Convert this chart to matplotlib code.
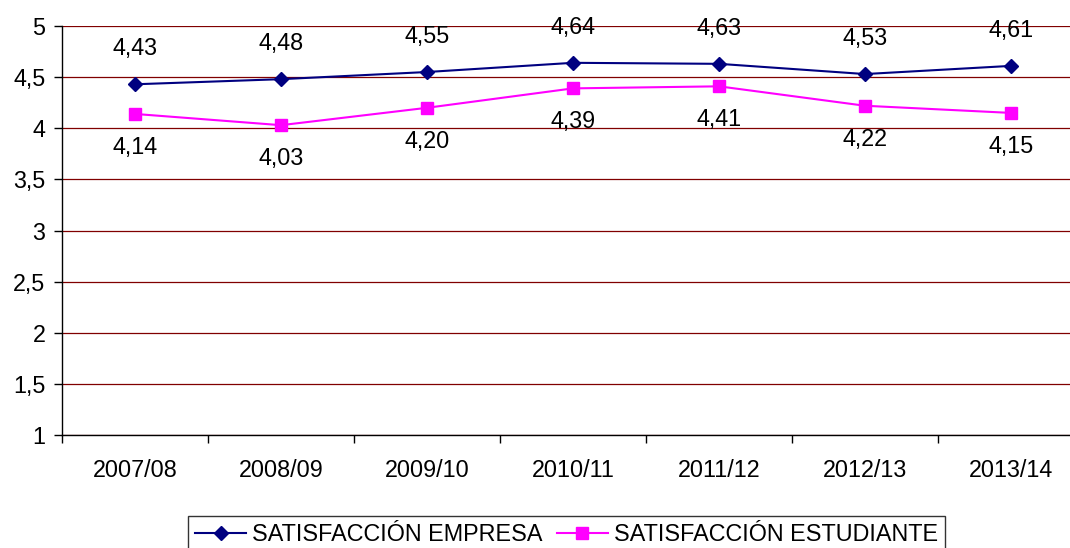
import matplotlib.pyplot as plt
import numpy as np
from matplotlib.ticker import FuncFormatter, FixedLocator

plt.rcParams['font.family'] = ['Liberation Sans', 'DejaVu Sans']

# data
cursos = ['2007/08', '2008/09', '2009/10', '2010/11', '2011/12', '2012/13', '2013/14']
empresa = [4.43, 4.48, 4.55, 4.64, 4.63, 4.53, 4.61]
estudiante = [4.14, 4.03, 4.20, 4.39, 4.41, 4.22, 4.15]

FS = 16.8

fig = plt.figure(figsize=(10.7, 5.48), dpi=100)
ax = fig.add_axes([62 / 1070, 1 - 435 / 548, 1022 / 1070, 409 / 548])

x = np.arange(len(cursos))
ax.plot(x, empresa, color='#000080', lw=1.5, marker='D', ms=7,
        label='SATISFACCIÓN EMPRESA', zorder=3)
ax.plot(x, estudiante, color='#FF00FF', lw=1.5, marker='s', ms=8,
        label='SATISFACCIÓN ESTUDIANTE', zorder=3)

for xi, v in zip(x, empresa):
    ax.annotate(f'{v:.2f}'.replace('.', ','), (xi, v), xytext=(0, 25.5),
                textcoords='offset points', ha='center', va='center', fontsize=FS)
for xi, v in zip(x, estudiante):
    ax.annotate(f'{v:.2f}'.replace('.', ','), (xi, v), xytext=(0, -24),
                textcoords='offset points', ha='center', va='center', fontsize=FS)

ax.set_xlim(-0.5, len(cursos) - 0.5)
ax.set_ylim(1, 5)
ax.set_yticks(np.arange(1, 5.01, 0.5))
ax.yaxis.set_major_formatter(FuncFormatter(lambda v, p: f'{v:g}'.replace('.', ',')))
ax.set_xticks(x)
ax.set_xticklabels(cursos)
ax.xaxis.set_minor_locator(FixedLocator(np.arange(-0.5, len(cursos), 1)))
ax.tick_params(axis='x', which='major', length=0, pad=17, labelsize=FS)
ax.tick_params(axis='x', which='minor', length=6, width=1, direction='out')
ax.tick_params(axis='y', length=6, width=1, direction='out', pad=6, labelsize=FS)

ax.grid(axis='y', color='#800000', lw=0.9)
ax.set_axisbelow(True)
for s in ['top', 'right']:
    ax.spines[s].set_visible(False)
ax.spines['left'].set_linewidth(1)
ax.spines['bottom'].set_linewidth(1)

leg = fig.legend(loc='upper left', bbox_to_anchor=(188 / 1070, 1 - 516 / 548),
                 ncol=2, frameon=True, fancybox=False, edgecolor='black',
                 handlelength=2.2, columnspacing=0.6, handletextpad=0.25,
                 borderpad=0.3, borderaxespad=0, fontsize=FS)
leg.get_frame().set_linewidth(1)

fig.savefig('out.png', dpi=100)
